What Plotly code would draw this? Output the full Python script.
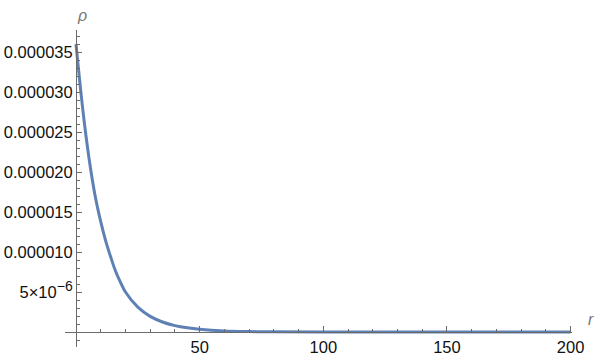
import plotly.graph_objects as go

# Data
r_vals = [0, 2, 4, 6, 8, 10, 12, 14, 16, 18, 20, 25, 30, 35, 40, 45, 50,
          60, 70, 80, 100, 150, 200]
rho_vals = [36.0e-6, 29.9e-6, 24.6e-6, 20.2e-6, 16.6e-6, 13.8e-6, 11.4e-6,
            9.4e-6, 7.6e-6, 6.2e-6, 5.0e-6, 3.1e-6, 1.95e-6, 1.25e-6, 0.8e-6,
            0.52e-6, 0.34e-6, 0.14e-6, 0.06e-6, 0.025e-6, 0.004e-6, 0.0, 0.0]

x_tickvals = [50, 100, 150, 200]
x_ticktext = ["50", "100", "150", "200"]
y_tickvals = [5e-6, 10e-6, 15e-6, 20e-6, 25e-6, 30e-6, 35e-6]
y_ticktext = ["5×10<sup><span style='font-size:14px'>−6</span></sup>",
              "0.000010", "0.000015", "0.000020",
              "0.000025", "0.000030", "0.000035"]

AXIS = "#6b6b6b"
FONT = "Liberation Sans, Arial, sans-serif"

fig = go.Figure()
fig.add_trace(go.Scatter(x=r_vals, y=rho_vals, mode="lines",
                         line=dict(color="#5E81B5", width=3, shape="spline"),
                         hoverinfo="skip", showlegend=False))

fig.update_layout(
    width=600, height=355,
    margin=dict(l=65, r=28, t=30, b=8, pad=0, autoexpand=False),
    paper_bgcolor="white", plot_bgcolor="white",
    font=dict(family=FONT, size=16.5, color="#111111"),
    xaxis=dict(range=[-4.45, 200.57], anchor="free", position=15/317,
               automargin=False,
               showline=True, linecolor=AXIS, linewidth=1,
               showgrid=False, zeroline=False,
               tickmode="array", tickvals=x_tickvals, ticktext=x_ticktext,
               ticks="inside", ticklen=6, tickcolor=AXIS, tickwidth=1,
               minor=dict(ticks="inside", ticklen=3, tickcolor=AXIS,
                          tickmode="linear", tick0=0, dtick=10, showgrid=False)),
    yaxis=dict(range=[-1.875e-6, 3.775e-5], anchor="free", position=11/507,
               automargin=False,
               showline=True, linecolor=AXIS, linewidth=1,
               showgrid=False, zeroline=False,
               tickmode="array", tickvals=y_tickvals, ticktext=y_ticktext,
               ticks="inside", ticklen=5, tickcolor=AXIS, tickwidth=1,
               minor=dict(ticks="inside", ticklen=3, tickcolor=AXIS,
                          tickmode="linear", tick0=0, dtick=1e-6, showgrid=False)),
    annotations=[
        dict(text="<i>ρ</i>", xref="paper", yref="paper", x=0.0207, y=1.079,
             showarrow=False, font=dict(size=16, color="#777777", family=FONT)),
        dict(text="<i>r</i>", xref="paper", yref="paper", x=1.048, y=0.0536,
             showarrow=False, font=dict(size=16, color="#777777", family=FONT)),
    ],
)

fig.write_html("out.html")
